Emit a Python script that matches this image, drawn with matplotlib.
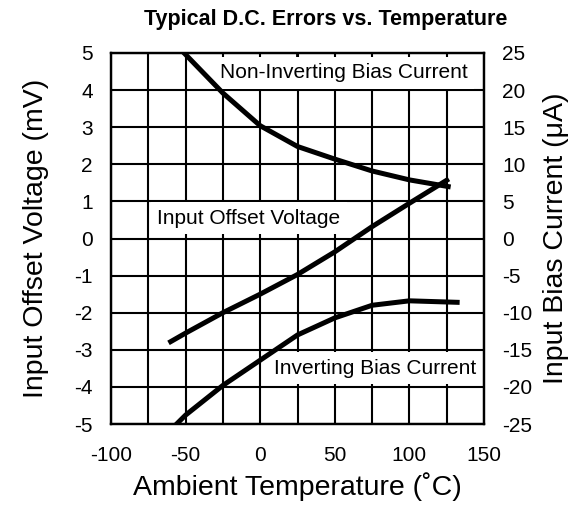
import matplotlib
matplotlib.use('Agg')
import matplotlib.pyplot as plt
import numpy as np

# 数据
temp_noninv = [-51, -25, 0, 25, 50, 75, 100, 126]
bias_noninv = [25.0, 19.6, 15.2, 12.4, 10.7, 9.1, 7.9, 7.0]  # uA

temp_offset = [-60, -50, -25, 0, 25, 50, 75, 100, 125]
offset_mv = [-2.78, -2.55, -2.0, -1.5, -0.97, -0.36, 0.32, 0.95, 1.57]  # mV

temp_inv = [-56, -50, -25, 0, 25, 50, 75, 100, 132]
bias_inv = [-25.0, -23.8, -19.8, -16.4, -13.0, -10.7, -9.0, -8.4, -8.6]  # uA

x_ticks = [-100, -50, 0, 50, 100, 150]
x_grid = np.arange(-100, 151, 25)
y1_ticks = np.arange(-5, 6, 1)
y2_ticks = np.arange(-25, 26, 5)

W, H = 579, 512
plt.rcParams['font.family'] = ['Liberation Sans', 'DejaVu Sans']
plt.rcParams['axes.unicode_minus'] = False

fig = plt.figure(figsize=(W / 100, H / 100), dpi=100)
ax1 = fig.add_axes([111 / W, 1 - 424 / H, 373 / W, 371 / H])
ax2 = ax1.twinx()

# 网格
ax1.set_xlim(-100, 150)
ax1.set_ylim(-5, 5)
ax2.set_ylim(-25, 25)
ax1.set_xticks(x_grid, minor=True)
ax1.set_xticks(x_ticks)
ax1.set_yticks(y1_ticks)
ax2.set_yticks(y2_ticks)
ax1.grid(True, which='both', color='black', linewidth=1.5)

for sp in list(ax1.spines.values()) + list(ax2.spines.values()):
    sp.set_linewidth(1.6)

ax1.tick_params(axis='both', which='both', direction='in', length=7, width=1.3,
                labelsize=15, top=True)
ax1.tick_params(axis='x', which='both', pad=16)
ax1.tick_params(axis='y', pad=13)
ax2.tick_params(axis='y', direction='in', length=7, width=1.3, labelsize=15, pad=13)

# 上边的刻度画在标注白底之上
ax2.xaxis.set_visible(True)
ax2.set_xticks(x_grid, minor=True)
ax2.set_xticks(x_ticks)
ax2.tick_params(axis='x', which='both', direction='in', length=7, width=1.3,
                bottom=False, top=True, labelbottom=False, labeltop=False)

# 曲线
ax2.plot(temp_noninv, bias_noninv, color='black', linewidth=3.6, zorder=5)
ax2.plot(temp_offset, np.array(offset_mv) * 5, color='black', linewidth=3.6, zorder=5)
ax2.plot(temp_inv, bias_inv, color='black', linewidth=3.6, zorder=5)

# 文字标注 (白底遮住网格)
box = dict(facecolor='white', edgecolor='none', boxstyle='square,pad=0.3')
ax2.text(344, H - 73, 'Non-Inverting Bias Current', transform=None, fontsize=15,
         ha='center', va='center', bbox=box, zorder=2)
ax2.text(249, H - 218, 'Input Offset Voltage', transform=None, fontsize=15,
         ha='center', va='center', bbox=box, zorder=2)
ax2.text(375, H - 368, 'Inverting Bias Current', transform=None, fontsize=15,
         ha='center', va='center', bbox=box, zorder=2)

ax1.set_xlabel('Ambient Temperature (˚C)', fontsize=20.5, labelpad=5)
ax1.set_ylabel('Input Offset Voltage (mV)', fontsize=20.5, labelpad=18)
ax2.set_ylabel('Input Bias Current (μA)', fontsize=20.5, labelpad=8)

fig.text(326 / W, 1 - 20 / H, 'Typical D.C. Errors vs. Temperature',
         fontweight='bold', fontsize=15.5, ha='center', va='center')

fig.savefig('out.png', dpi=100)
